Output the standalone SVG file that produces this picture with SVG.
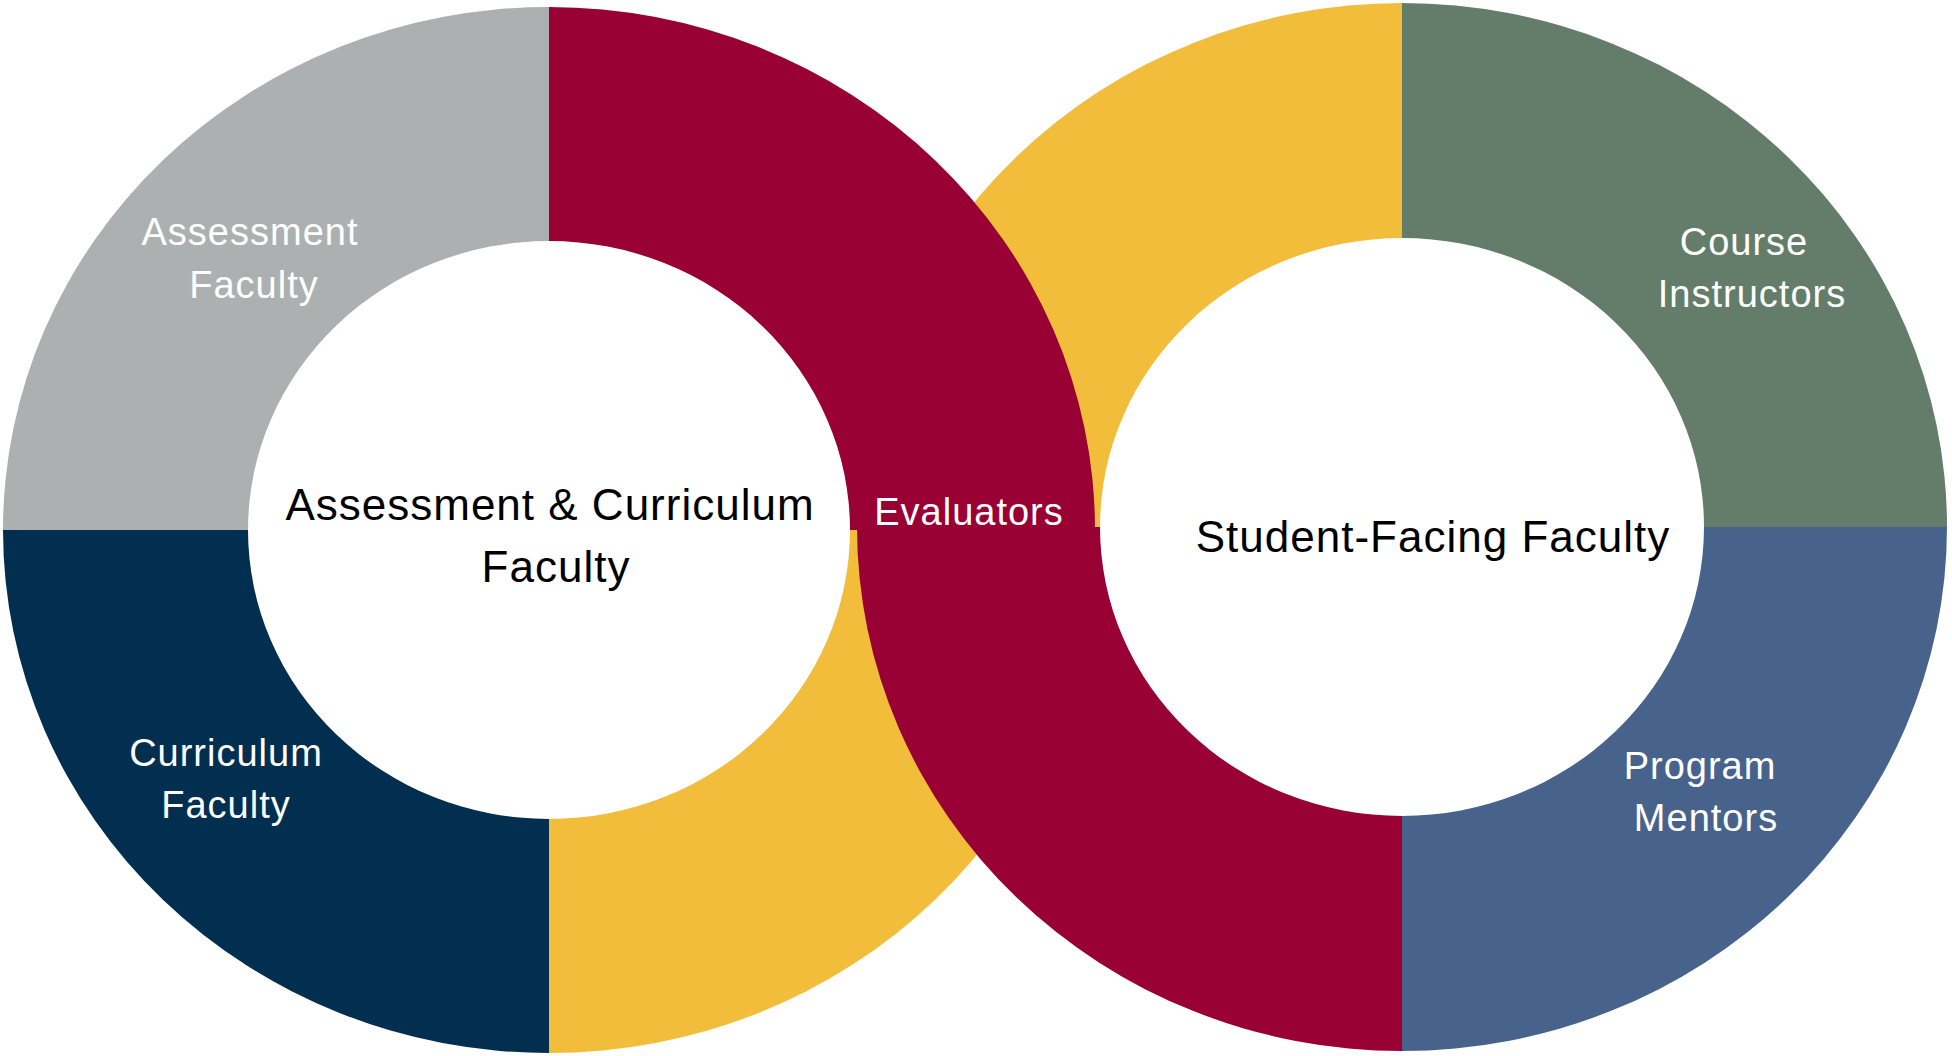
<svg xmlns="http://www.w3.org/2000/svg" width="1952" height="1056" viewBox="0 0 1952 1056">
<style>
.lbl{font-family:"Liberation Sans",Arial,sans-serif;font-size:38px;fill:#ffffff;text-anchor:middle;letter-spacing:1px}
.ctr{font-family:"Liberation Sans",Arial,sans-serif;font-size:44px;fill:#000000;text-anchor:middle;letter-spacing:1px}
</style>
<rect width="1952" height="1056" fill="#ffffff"/>
<g id="left-ring">
<g id="assessment-faculty"><path d="M 3 530 A 546 523 0 0 1 549 7 L 549 241 A 301 289 0 0 0 248 530 Z" fill="#ADB0B0"/></g>
<g id="curriculum-faculty"><path d="M 3 530 A 546 523 0 0 0 549 1053 L 549 819 A 301 289 0 0 1 248 530 Z" fill="#022E4F"/></g>
<g id="yellow-left"><path d="M 549 1053 A 546 523 0 0 0 1095 530 L 850 530 A 301 289 0 0 1 549 819 Z" fill="#F2BD3A"/></g>
</g>
<g id="right-ring">
<g id="yellow-right"><path d="M 857 527 A 545 524 0 0 1 1402 3 L 1402 238 A 302 289 0 0 0 1100 527 Z" fill="#F2BD3A"/></g>
<g id="course-instructors"><path d="M 1402 3 A 545 524 0 0 1 1947 527 L 1704 527 A 302 289 0 0 0 1402 238 Z" fill="#647C6A"/></g>
<g id="program-mentors"><path d="M 1947 527 A 545 524 0 0 1 1402 1051 L 1402 816 A 302 289 0 0 0 1704 527 Z" fill="#47638B"/></g>
</g>
<g id="evaluators">
<path d="M 549 7 A 546 523 0 0 1 1095 530 L 850 530 A 301 289 0 0 0 549 241 Z" fill="#990033"/>
<path d="M 857 527 A 545 524 0 0 0 1402 1051 L 1402 816 A 302 289 0 0 1 1100 527 Z" fill="#990033"/>
</g>
<g id="labels">
<text class="lbl" x="250" y="245">Assessment</text>
<text class="lbl" x="254" y="298">Faculty</text>
<text class="lbl" x="226" y="766">Curriculum</text>
<text class="lbl" x="226" y="818">Faculty</text>
<text class="lbl" x="969" y="525">Evaluators</text>
<text class="lbl" x="1744" y="255">Course</text>
<text class="lbl" x="1752" y="307">Instructors</text>
<text class="lbl" x="1700" y="779">Program</text>
<text class="lbl" x="1706" y="831">Mentors</text>
<text class="ctr" x="550" y="520">Assessment &amp; Curriculum</text>
<text class="ctr" x="556" y="582">Faculty</text>
<text class="ctr" x="1433" y="552">Student-Facing Faculty</text>
</g>
</svg>
